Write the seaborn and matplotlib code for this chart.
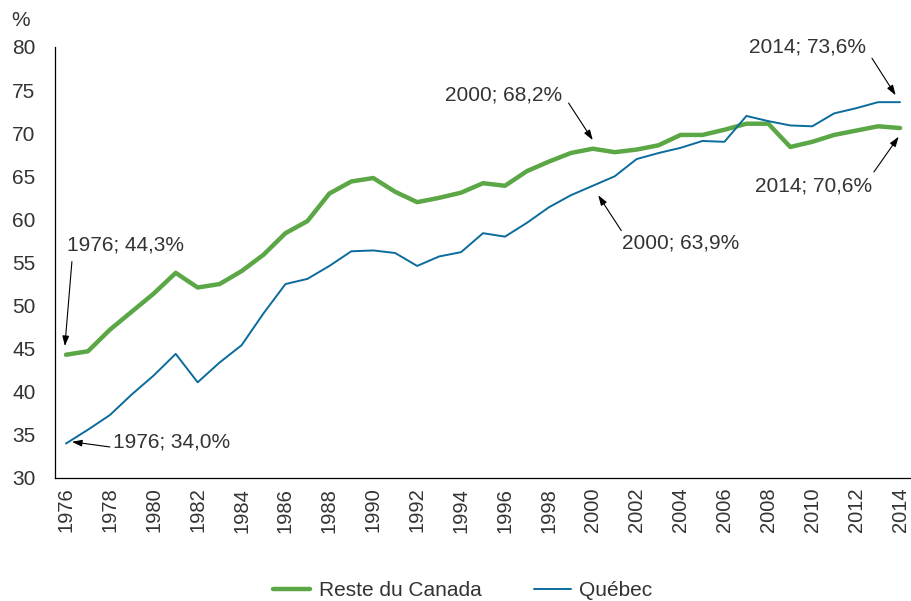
import numpy as np
import pandas as pd
import matplotlib
matplotlib.use('Agg')
import matplotlib.pyplot as plt
import seaborn as sns

sns.set_style('white')
plt.rcParams['font.family'] = ['Liberation Sans', 'DejaVu Sans']

years = list(range(1976, 2015))
reste_canada = [44.3, 44.7, 47.2, 49.3, 51.4, 53.8, 52.1, 52.5, 54.0, 55.9,
                58.4, 59.8, 63.0, 64.4, 64.8, 63.2, 62.0, 62.5, 63.1, 64.2,
                63.9, 65.6, 66.7, 67.7, 68.2, 67.8, 68.1, 68.6, 69.8, 69.8,
                70.4, 71.1, 71.1, 68.4, 69.0, 69.8, 70.3, 70.8, 70.6]
quebec = [34.0, 35.6, 37.3, 39.7, 41.9, 44.4, 41.1, 43.4, 45.4, 49.1,
          52.5, 53.1, 54.6, 56.3, 56.4, 56.1, 54.6, 55.7, 56.2, 58.4,
          58.0, 59.6, 61.4, 62.8, 63.9, 65.0, 67.0, 67.7, 68.3, 69.1,
          69.0, 72.0, 71.4, 70.9, 70.8, 72.3, 72.9, 73.6, 73.6]

green = '#5ba745'
blue = '#0b6b9c'
txt = '#333333'
fs = 15

df = pd.DataFrame({'Année': years, 'Reste du Canada': reste_canada, 'Québec': quebec})

fig = plt.figure(figsize=(9.11, 6.01), dpi=100)
ax = fig.add_axes([55/911, 1 - 478/601, 1 - 55/911, (478 - 47)/601])

sns.lineplot(data=df, x='Année', y='Reste du Canada', color=green, linewidth=3.2,
             label='Reste du Canada', ax=ax, legend=False)
sns.lineplot(data=df, x='Année', y='Québec', color=blue, linewidth=1.4,
             label='Québec', ax=ax, legend=False)

ax.set_xlim(1975.5, 2014.3)
ax.set_ylim(30, 80)
ax.set_xlabel('')
ax.set_ylabel('')

# ticks: labels on even years, tick marks on category boundaries
ax.set_xticks(years[::2])
ax.set_xticklabels([str(y) for y in years[::2]], rotation=90, fontsize=14.5, color=txt)
ax.tick_params(axis='x', which='major', length=0, pad=7)
ax.set_xticks(np.arange(1975.5, 2014.6, 1), minor=True)
ax.tick_params(axis='x', which='minor', length=6, width=0.8, color='black', direction='out')
ax.set_yticks(range(30, 81, 5))
ax.tick_params(axis='y', length=6, width=0.8, color='black', direction='out', pad=8,
               labelsize=fs, labelcolor=txt)

for s in ['top', 'right']:
    ax.spines[s].set_visible(False)
for s in ['left', 'bottom']:
    ax.spines[s].set_color('black')
    ax.spines[s].set_linewidth(0.9)

fig.text(11/911, 1 - 20/601, '%', fontsize=fs, color=txt, va='center', ha='left')

# annotations: (text, text pos, arrow start, arrow tip)
notes = [
    ('1976; 44,3%', (1976.05, 57.0), (1976.27, 55.1), (1975.95, 45.3)),
    ('1976; 34,0%', (1978.13, 34.2), (1978.0, 33.6), (1976.27, 34.2)),
    ('2000; 68,2%', (1993.27, 74.4), (1998.9, 73.5), (2000.0, 69.2)),
    ('2000; 63,9%', (2001.34, 57.3), (2001.3, 58.7), (2000.25, 62.8)),
    ('2014; 73,6%', (2007.1, 80.0), (2012.72, 78.7), (2013.8, 74.4)),
    ('2014; 70,6%', (2007.37, 63.9), (2012.81, 65.5), (2013.94, 69.6)),
]
for label, tpos, start, tip in notes:
    ax.text(tpos[0], tpos[1], label, fontsize=fs, color=txt, ha='left', va='center',
            clip_on=False)
    ax.annotate('', xy=tip, xytext=start, annotation_clip=False,
                arrowprops=dict(arrowstyle='-|>,head_length=0.6,head_width=0.2',
                                color='black', lw=0.8, shrinkA=0, shrinkB=0))

handles, labels = ax.get_legend_handles_labels()
fig.legend(handles, labels, loc='center', bbox_to_anchor=(0.508, 1 - 591/601), ncol=2,
           frameon=False, fontsize=fs, handlelength=1.8, columnspacing=2.5,
           handletextpad=0.4, labelcolor=txt)

fig.savefig('out.png', dpi=100)
